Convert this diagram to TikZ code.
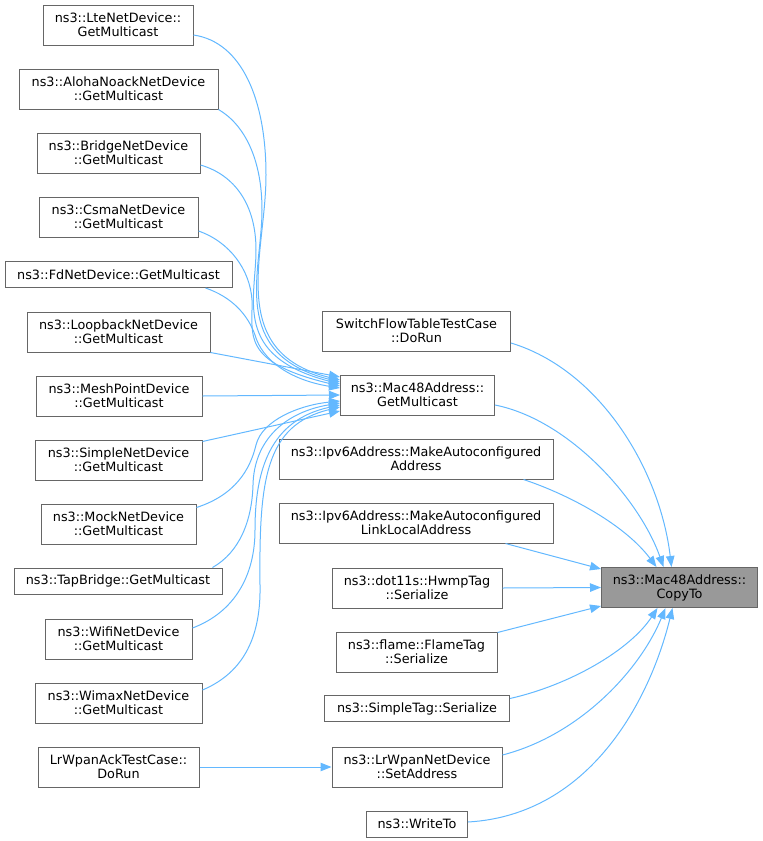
\documentclass[tikz,border=0pt]{standalone}
\usepackage{fontspec}
\setmainfont{DejaVu Sans}
\usetikzlibrary{arrows.meta}
\definecolor{edgeblue}{HTML}{63B8FF}
\definecolor{boxgray}{HTML}{666666}
\definecolor{focusfill}{HTML}{999999}
\begin{document}
\begin{tikzpicture}[x=1pt,y=-1pt,
  box/.style={draw=boxgray, line width=1pt, fill=white, inner sep=0pt, align=center,
    font=\fontsize{12.8}{14}\selectfont, text=black},
  two/.style={box, minimum height=40pt},
  one/.style={box, minimum height=26pt},
  call/.style={draw=edgeblue, line width=1pt, -{Triangle[length=11pt,width=8.5pt]}},
]
\useasboundingbox (0,0) rectangle (763,841);

% left column
\node[two, minimum width=150pt] (lte) at (118,25) {ns3::LteNetDevice::\\GetMulticast};
\node[two, minimum width=199pt] (aloha) at (118.5,89) {ns3::AlohaNoackNetDevice\\::GetMulticast};
\node[two, minimum width=163pt] (bridge) at (118.5,153) {ns3::BridgeNetDevice\\::GetMulticast};
\node[two, minimum width=159pt] (csma) at (118.5,217) {ns3::CsmaNetDevice\\::GetMulticast};
\node[one, minimum width=227pt] (fd) at (118.5,274.5) {ns3::FdNetDevice::GetMulticast};
\node[two, minimum width=183pt] (loop) at (118.5,332) {ns3::LoopbackNetDevice\\::GetMulticast};
\node[two, minimum width=166pt] (mesh) at (119,396) {ns3::MeshPointDevice\\::GetMulticast};
\node[two, minimum width=167pt] (simple) at (118.5,460) {ns3::SimpleNetDevice\\::GetMulticast};
\node[two, minimum width=155pt] (mock) at (118.5,524) {ns3::MockNetDevice\\::GetMulticast};
\node[one, minimum width=208pt] (tap) at (118,581) {ns3::TapBridge::GetMulticast};
\node[two, minimum width=147pt] (wifi) at (118.5,639) {ns3::WifiNetDevice\\::GetMulticast};
\node[two, minimum width=167pt] (wimax) at (118.5,703) {ns3::WimaxNetDevice\\::GetMulticast};
\node[two, minimum width=161pt] (lrack) at (118.5,767) {LrWpanAckTestCase::\\DoRun};

% middle column
\node[two, minimum width=188pt] (sw) at (416.5,331) {SwitchFlowTableTestCase\\::DoRun};
\node[two, minimum width=154pt] (gm) at (417.5,395) {ns3::Mac48Address::\\GetMulticast};
\node[two, minimum width=274pt] (ip6) at (416,459) {ns3::Ipv6Address::MakeAutoconfigured\\Address};
\node[two, minimum width=274pt] (ll) at (416,523) {ns3::Ipv6Address::MakeAutoconfigured\\LinkLocalAddress};
\node[two, minimum width=170pt] (hwmp) at (417,588) {ns3::dot11s::HwmpTag\\::Serialize};
\node[two, minimum width=161pt] (flame) at (416.5,652) {ns3::flame::FlameTag\\::Serialize};
\node[one, minimum width=185pt] (st) at (417,708.5) {ns3::SimpleTag::Serialize};
\node[two, minimum width=170pt] (lr) at (417,767) {ns3::LrWpanNetDevice\\::SetAddress};
\node[one, minimum width=101pt] (wt) at (417,824) {ns3::WriteTo};

% focus node
\node[two, minimum width=156pt, fill=focusfill] (copy) at (679.5,587.5) {ns3::Mac48Address::\\CopyTo};

% edges into GetMulticast (upper group)
\draw[call] ([yshift=-10pt]lte.east) .. controls (242,42) and (266,100) .. (266,175)
  .. controls (266,255) and (225,352) .. ([yshift=15pt]gm.west);
\draw[call] (aloha.south east) .. controls (245,125) and (262,160) .. (262,210)
  .. controls (262,272) and (228,354) .. ([yshift=13pt]gm.west);
\draw[call] ([yshift=-12pt]bridge.east) .. controls (235,175) and (256,205) .. (256,250)
  .. controls (256,300) and (232,356) .. ([yshift=11pt]gm.west);
\draw[call] ([yshift=-14pt]csma.east) .. controls (230,242) and (250,270) .. (252,300)
  .. controls (253,335) and (240,362) .. ([yshift=9pt]gm.west);
\draw[call] ([xshift=-27pt]fd.south east) .. controls (232,297) and (248,315) .. (255,335)
  .. controls (262,360) and (290,380) .. ([yshift=7pt]gm.west);
\draw[call] (loop.south east) -- ([yshift=18pt]gm.west);
\draw[call] (mesh.east) -- (gm.west);
% lower group
\draw[call] ([yshift=-2pt]simple.north east) -- ([yshift=-16pt]gm.west);
\draw[call] ([yshift=-4pt]mock.north east) .. controls (235,495) and (250,470) .. (256,445)
  .. controls (262,420) and (300,405) .. ([yshift=-6pt]gm.west);
\draw[call] ([xshift=-10pt]tap.north east) .. controls (240,552) and (252,520) .. (253,485)
  .. controls (254,440) and (285,412) .. ([yshift=-8pt]gm.west);
\draw[call] ([yshift=11pt]wifi.east) .. controls (235,612) and (255,575) .. (255,530)
  .. controls (255,470) and (270,420) .. ([yshift=-10pt]gm.west);
\draw[call] ([yshift=13pt]wimax.east) .. controls (245,672) and (261,635) .. (260,585)
  .. controls (259,480) and (265,425) .. ([yshift=-12pt]gm.west);

% edges into CopyTo
\draw[call] ([yshift=-12pt]sw.east) .. controls (600,370) and (660,470) .. ([xshift=-8pt]copy.north);
\draw[call] ([yshift=-10pt]gm.east) .. controls (570,420) and (640,500) .. ([xshift=-16pt]copy.north);
\draw[call] ([xshift=-30pt]ip6.south east) .. controls (570,495) and (625,525) .. ([xshift=-23pt]copy.north);
\draw[call] ([xshift=-48pt]ll.south east) -- ([yshift=-2pt]copy.north west);
\draw[call] (hwmp.east) -- (copy.west);
\draw[call] ([yshift=-1pt]flame.north east) -- ([yshift=2pt]copy.south west);
\draw[call] ([yshift=10pt]st.east) .. controls (570,685) and (630,650) .. ([xshift=-22pt]copy.south);
\draw[call] ([yshift=12pt]lr.east) .. controls (580,735) and (640,670) .. ([xshift=-14pt]copy.south);
\draw[call] ([yshift=2pt]wt.east) .. controls (590,815) and (650,700) .. ([xshift=-7pt]copy.south);
\draw[call] (lrack.east) -- (lr.west);
\end{tikzpicture}
\end{document}
